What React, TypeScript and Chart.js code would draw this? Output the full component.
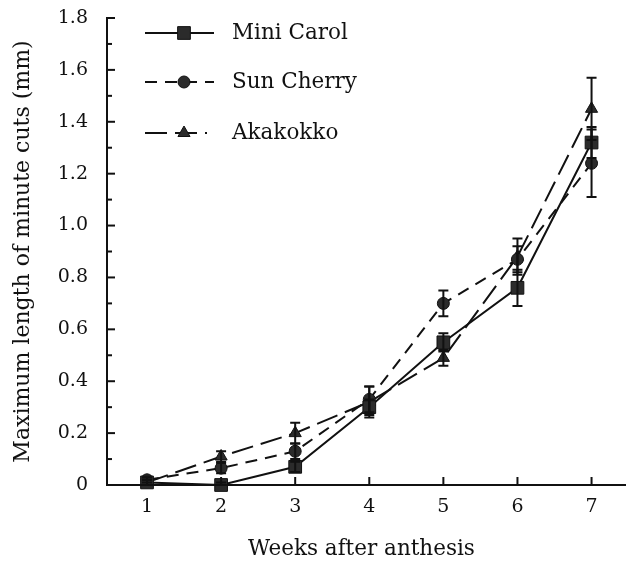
import React, { useEffect, useRef } from "react";
import { Chart, registerables } from "chart.js";

Chart.register(...registerables);

const weeks = [1, 2, 3, 4, 5, 6, 7];
const miniCarol = [0.01, 0.0, 0.07, 0.3, 0.55, 0.76, 1.32];
const miniCarolErr = [0.01, 0.01, 0.02, 0.03, 0.035, 0.07, 0.06];
const sunCherry = [0.02, 0.065, 0.13, 0.33, 0.7, 0.87, 1.24];
const sunCherryErr = [0.01, 0.02, 0.03, 0.05, 0.05, 0.05, 0.13];
const akakokko = [0.01, 0.11, 0.2, 0.32, 0.49, 0.88, 1.45];
const akakokkoErr = [0.01, 0.02, 0.04, 0.06, 0.03, 0.07, 0.12];
const yTicks = [0, 0.2, 0.4, 0.6, 0.8, 1.0, 1.2, 1.4, 1.6, 1.8];
const yMinorTicks = [0.1, 0.3, 0.5, 0.7, 0.9, 1.1, 1.3, 1.5, 1.7];

const seriesNames = ["Mini Carol", "Sun Cherry", "Akakokko"];
const seriesValues = [miniCarol, sunCherry, akakokko];
const seriesErrors = [miniCarolErr, sunCherryErr, akakokkoErr];
const seriesDash = [[], [12, 8], [22, 8]];
const seriesMarker = ["rect", "circle", "triangle"];
const seriesRadius = [9, 6, 7];

const FONT = "'DejaVu Serif', serif";
const TICK_FONT = "'DejaVu Serif', serif";
const INK = "#111";
const MARK = "#2b2b2b";

const decorPlugin = {
  id: "decor",
  afterDatasetsDraw(chart: any) {
    const ctx = chart.ctx;
    const xs = chart.scales.x;
    const ys = chart.scales.y;
    const area = chart.chartArea;
    ctx.save();
    // x axis line running to the canvas edge
    ctx.strokeStyle = INK;
    ctx.lineWidth = 2;
    ctx.setLineDash([]);
    ctx.beginPath();
    ctx.moveTo(area.left - 1, area.bottom);
    ctx.lineTo(chart.width, area.bottom);
    ctx.stroke();
    // error bars
    seriesValues.forEach((vals, si) => {
      vals.forEach((v, i) => {
        const e = seriesErrors[si][i];
        const x = xs.getPixelForValue(weeks[i]);
        const y1 = ys.getPixelForValue(v + e);
        const y2 = ys.getPixelForValue(Math.max(0, v - e));
        ctx.beginPath();
        ctx.moveTo(x, y1);
        ctx.lineTo(x, y2);
        ctx.moveTo(x - 5, y1);
        ctx.lineTo(x + 5, y1);
        if (v - e > 0) {
          ctx.moveTo(x - 5, y2);
          ctx.lineTo(x + 5, y2);
        }
        ctx.stroke();
      });
    });
    // inward ticks
    weeks.forEach((w) => {
      const x = xs.getPixelForValue(w);
      ctx.beginPath();
      ctx.moveTo(x, area.bottom);
      ctx.lineTo(x, area.bottom - 8);
      ctx.stroke();
    });
    yTicks.forEach((t) => {
      const y = ys.getPixelForValue(t);
      ctx.beginPath();
      ctx.moveTo(area.left, y);
      ctx.lineTo(area.left + 8, y);
      ctx.stroke();
    });
    yMinorTicks.forEach((t) => {
      const y = ys.getPixelForValue(t);
      ctx.beginPath();
      ctx.moveTo(area.left, y);
      ctx.lineTo(area.left + 5, y);
      ctx.stroke();
    });
    // legend
    const rowY = [33, 82, 133];
    seriesNames.forEach((name, si) => {
      const y = rowY[si];
      ctx.strokeStyle = INK;
      ctx.lineWidth = 2;
      ctx.setLineDash(seriesDash[si]);
      ctx.beginPath();
      ctx.moveTo(145, y);
      ctx.lineTo(si === 2 ? 207 : 214, y);
      ctx.stroke();
      ctx.setLineDash([]);
      ctx.fillStyle = MARK;
      ctx.strokeStyle = INK;
      ctx.lineWidth = 1;
      const mx = 184;
      const r = seriesRadius[si];
      ctx.beginPath();
      if (seriesMarker[si] === "rect") {
        const s = r * Math.SQRT1_2;
        ctx.rect(mx - s, y - s, 2 * s, 2 * s);
      } else if (seriesMarker[si] === "circle") {
        ctx.arc(mx, y, r, 0, Math.PI * 2);
      } else {
        ctx.moveTo(mx, y - r);
        ctx.lineTo(mx + r * 0.866, y + r * 0.5);
        ctx.lineTo(mx - r * 0.866, y + r * 0.5);
        ctx.closePath();
      }
      ctx.fill();
      ctx.stroke();
      ctx.fillStyle = INK;
      ctx.font = "21.5px " + FONT;
      ctx.textAlign = "left";
      ctx.textBaseline = "middle";
      ctx.fillText(name, 232, y);
    });
    ctx.restore();
  },
};

export default function App() {
  const ref = useRef<HTMLCanvasElement | null>(null);
  useEffect(() => {
    if (!ref.current) return;
    const chart = new Chart(ref.current, {
      type: "line",
      data: {
        datasets: seriesNames.map((name, si) => ({
          label: name,
          data: seriesValues[si].map((v, i) => ({ x: weeks[i], y: v })),
          borderColor: INK,
          borderWidth: 2,
          borderDash: seriesDash[si],
          pointStyle: seriesMarker[si] as any,
          pointRadius: seriesRadius[si],
          pointBackgroundColor: MARK,
          pointBorderColor: INK,
          pointBorderWidth: 1,
          tension: 0,
          fill: false,
          clip: false as any,
        })),
      },
      options: {
        responsive: false,
        animation: false,
        layout: { padding: { top: 18, right: 0, left: 0, bottom: 0 } },
        plugins: {
          legend: { display: false },
          tooltip: { enabled: false },
        },
        scales: {
          x: {
            type: "linear",
            min: 0.46,
            max: 7.33,
            afterBuildTicks: (s: any) => {
              s.ticks = weeks.map((w) => ({ value: w }));
            },
            afterFit: (s: any) => {
              s.height = 77;
              s.paddingLeft = 0;
              s.paddingRight = 0;
            },
            grid: { display: false, drawTicks: false },
            border: { display: false },
            ticks: {
              color: INK,
              font: { family: TICK_FONT, size: 19 },
              padding: 11,
              maxRotation: 0,
              callback: (v: any) => String(v),
            },
            title: {
              display: true,
              text: "Weeks after anthesis",
              color: INK,
              font: { family: FONT, size: 21.5 },
              padding: { top: 2, bottom: 0 },
            },
          },
          y: {
            min: 0,
            max: 1.8,
            afterBuildTicks: (s: any) => {
              s.ticks = yTicks.map((t) => ({ value: t }));
            },
            afterFit: (s: any) => {
              s.width = 107;
              s.paddingTop = 0;
              s.paddingBottom = 0;
            },
            grid: { display: false, drawTicks: false },
            border: { display: true, color: INK, width: 2 },
            ticks: {
              color: INK,
              font: { family: TICK_FONT, size: 19 },
              padding: 19,
              callback: (v: any) => (v === 0 ? "0" : Number(v).toFixed(1)),
            },
            title: {
              display: true,
              text: "Maximum length of minute cuts (mm)",
              color: INK,
              font: { family: FONT, size: 22 },
              padding: { top: 10, bottom: 0 },
            },
          },
        },
      },
      plugins: [decorPlugin],
    });
    return () => chart.destroy();
  }, []);
  return (
    <canvas
      ref={ref}
      width={626}
      height={562}
      style={{ position: "fixed", left: 0, top: 0, display: "block", background: "#fff" }}
    />
  );
}
